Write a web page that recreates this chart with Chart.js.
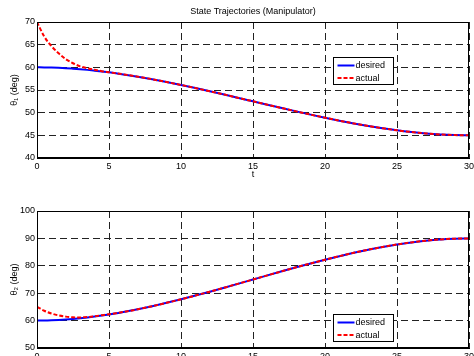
<!DOCTYPE html>
<html><head><meta charset="utf-8">
<script src="https://cdn.jsdelivr.net/npm/chart.js@4/dist/chart.umd.min.js"></script>
<style>
html,body{margin:0;padding:0;width:474px;height:356px;overflow:hidden;background:#fff;}
canvas{position:absolute;left:0;}
#top{top:0;}
#bot{top:180px;}
</style></head><body>
<canvas id="top" width="474" height="180"></canvas>
<canvas id="bot" width="474" height="200"></canvas>
<script>
// ---------- data ----------
const chartTitle = 'State Trajectories (Manipulator)';
const seriesNames = ['desired', 'actual'];
const xTitle = 't';
const yTitles = ['θ₁ (deg)', 'θ₂ (deg)'];

const time = [0, 0.5, 1, 1.5, 2, 2.5, 3, 3.5, 4, 4.5, 5, 5.5, 6,
  7, 8, 9, 10, 11, 12, 13, 14, 15, 16, 17, 18, 19, 20, 21, 22, 23, 24, 25, 26, 27, 28, 29, 30];

const theta1Desired = [60, 59.99, 59.95, 59.89, 59.81, 59.70, 59.58, 59.44, 59.27, 59.09, 58.89, 58.67, 58.44,
  57.93, 57.37, 56.76, 56.11, 55.43, 54.72, 53.99, 53.25, 52.5, 51.75, 51.01, 50.28, 49.57, 48.89,
  48.24, 47.63, 47.07, 46.56, 46.11, 45.73, 45.42, 45.19, 45.05, 45];
const theta1Actual = [70, 66.8, 64.7, 63.1, 61.8, 60.9, 60.2, 59.8, 59.45, 59.15, 58.92, 58.69, 58.45,
  57.93, 57.37, 56.76, 56.11, 55.43, 54.72, 53.99, 53.25, 52.5, 51.75, 51.01, 50.28, 49.57, 48.89,
  48.24, 47.63, 47.07, 46.56, 46.11, 45.73, 45.42, 45.19, 45.05, 45];

const theta2Desired = [60, 60.02, 60.10, 60.22, 60.38, 60.59, 60.84, 61.13, 61.46, 61.82, 62.22, 62.66, 63.12,
  64.14, 65.26, 66.48, 67.78, 69.14, 70.56, 72.02, 73.50, 75, 76.50, 77.98, 79.44, 80.86, 82.22,
  83.52, 84.74, 85.86, 86.88, 87.78, 88.54, 89.16, 89.62, 89.90, 90];
const theta2Actual = [65, 63.6, 62.6, 61.9, 61.45, 61.2, 61.15, 61.3, 61.6, 61.95, 62.3, 62.7, 63.14,
  64.14, 65.26, 66.48, 67.78, 69.14, 70.56, 72.02, 73.50, 75, 76.50, 77.98, 79.44, 80.86, 82.22,
  83.52, 84.74, 85.86, 86.88, 87.78, 88.54, 89.16, 89.62, 89.90, 90];

const xTicks = [0, 5, 10, 15, 20, 25, 30];
const theta1Ticks = [40, 45, 50, 55, 60, 65, 70];
const theta2Ticks = [50, 60, 70, 80, 90, 100];

// ---------- drawing ----------
const FONT = "'Liberation Sans', Arial, Helvetica, sans-serif";

const framePlugin = {
  id: 'frameLegendTitle',
  afterDatasetsDraw(chart, args, opts) {
    const {ctx, chartArea: a} = chart;
    ctx.save();
    ctx.setLineDash([]);
    ctx.strokeStyle = '#000';
    ctx.lineWidth = 1;
    ctx.strokeRect(Math.round(a.left) + 0.5, Math.round(a.top) + 0.5,
      Math.round(a.right - a.left) - 1, Math.round(a.bottom - a.top) - 1);

    // legend box
    const w = 60, h = 27;
    const lx = Math.round(a.right - opts.right - w) + 0.5;
    const ly = (opts.top != null ? Math.round(a.top + opts.top) : Math.round(a.bottom - opts.bottom - h)) + 0.5;
    ctx.fillStyle = '#fff';
    ctx.fillRect(lx, ly, w, h);
    ctx.strokeRect(lx, ly, w, h);
    const items = [chart.data.datasets.find(d => d.label === seriesNames[0]),
                   chart.data.datasets.find(d => d.label === seriesNames[1])];
    items.forEach((ds, i) => {
      const yy = ly + 8 + i * 12.5;
      ctx.strokeStyle = ds.borderColor;
      ctx.lineWidth = 2;
      ctx.setLineDash(ds.borderDash || []);
      ctx.beginPath();
      ctx.moveTo(lx + 4, yy);
      ctx.lineTo(lx + 21, yy);
      ctx.stroke();
      ctx.setLineDash([]);
      ctx.fillStyle = '#000';
      ctx.font = '9px ' + FONT;
      ctx.textBaseline = 'middle';
      ctx.textAlign = 'left';
      ctx.fillText(ds.label, lx + 22, yy + 0.5);
    });

    if (opts.title) {
      ctx.fillStyle = '#000';
      ctx.font = '9px ' + FONT;
      ctx.textAlign = 'center';
      ctx.textBaseline = 'middle';
      ctx.fillText(opts.title, (a.left + a.right) / 2, 11.5);
    }
    ctx.restore();
  }
};

function makeChart(id, desired, actual, yTicks, yTitle, padTop, xAxisH, showX, legendPos, title) {
  const ctx = document.getElementById(id).getContext('2d');
  return new Chart(ctx, {
    type: 'line',
    data: {
      datasets: [
        { label: seriesNames[0], data: time.map((t, i) => ({x: t, y: desired[i]})),
          borderColor: '#0000ff', borderWidth: 2, pointRadius: 0, order: 1,
          cubicInterpolationMode: 'monotone', fill: false },
        { label: seriesNames[1], data: time.map((t, i) => ({x: t, y: actual[i]})),
          borderColor: '#ff0000', borderWidth: 2, borderDash: [4, 2], pointRadius: 0, order: 0,
          cubicInterpolationMode: 'monotone', fill: false }
      ]
    },
    options: {
      responsive: false,
      animation: false,
      events: [],
      layout: { padding: { left: 0, right: 5, top: padTop, bottom: 0 } },
      plugins: {
        legend: { display: false },
        tooltip: { enabled: false },
        title: { display: false },
        frameLegendTitle: Object.assign({ title: title }, legendPos)
      },
      scales: {
        x: {
          type: 'linear',
          min: xTicks[0], max: xTicks[xTicks.length - 1],
          afterBuildTicks: s => { s.ticks = xTicks.map(v => ({ value: v })); },
          afterFit: s => { s.height = xAxisH; s.paddingLeft = 0; s.paddingRight = 0; },
          ticks: { color: '#000', font: { family: FONT, size: 9 }, padding: 3, maxRotation: 0, autoSkip: false },
          grid: { color: '#222', lineWidth: 1, drawTicks: false },
          border: { display: true, color: '#000', width: 1, dash: [7, 4] },
          title: { display: showX, text: xTitle, color: '#000', font: { family: FONT, size: 9 }, padding: { top: 0, bottom: 0 } }
        },
        y: {
          type: 'linear',
          min: yTicks[0], max: yTicks[yTicks.length - 1],
          afterBuildTicks: s => { s.ticks = yTicks.map(v => ({ value: v })); },
          afterFit: s => { s.width = 37; s.paddingTop = 0; s.paddingBottom = 0; },
          ticks: { color: '#000', font: { family: FONT, size: 9 }, padding: 2, autoSkip: false },
          grid: { color: '#222', lineWidth: 1, drawTicks: false },
          border: { display: true, color: '#000', width: 1, dash: [7, 4] },
          title: { display: true, text: yTitle, color: '#000', font: { family: FONT, size: 9 }, padding: { top: 9, bottom: 0 } }
        }
      }
    },
    plugins: [framePlugin]
  });
}

makeChart('top', theta1Desired, theta1Actual, theta1Ticks, yTitles[0], 22, 22, true, { right: 76, top: 35 }, chartTitle);
makeChart('bot', theta2Desired, theta2Actual, theta2Ticks, yTitles[1], 31, 32, false, { right: 76, bottom: 7 }, null);
</script>
</body></html>
